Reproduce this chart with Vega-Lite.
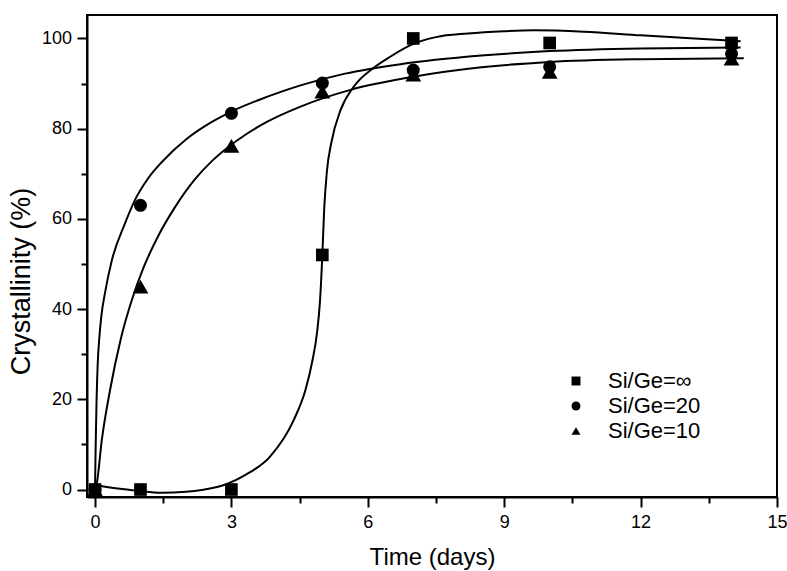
{
  "$schema": "https://vega.github.io/schema/vega-lite/v6.json",
  "width": 690,
  "height": 482,
  "autosize": {"type": "none"},
  "padding": {"left": 87, "top": 15, "right": 10, "bottom": 74},
  "background": "white",
  "config": {
    "font": "Liberation Sans",
    "view": {"stroke": "black", "strokeWidth": 2},
    "axis": {
      "domainColor": "black", "domainWidth": 2,
      "tickColor": "black", "tickWidth": 2,
      "labelColor": "black", "titleColor": "black",
      "labelFont": "Liberation Sans", "titleFont": "Liberation Sans",
      "labelFontSize": 18, "titleFontWeight": "normal",
      "grid": false, "labelFlush": false, "labelOverlap": false
    }
  },
  "datasets": {
    "points": [
      {"series": "Si/Ge=10", "x": 0, "y": 0},
      {"series": "Si/Ge=10", "x": 1, "y": 45},
      {"series": "Si/Ge=10", "x": 3, "y": 76.2},
      {"series": "Si/Ge=10", "x": 5, "y": 88.2},
      {"series": "Si/Ge=10", "x": 7, "y": 92},
      {"series": "Si/Ge=10", "x": 10, "y": 92.6},
      {"series": "Si/Ge=10", "x": 14, "y": 95.5},
      {"series": "Si/Ge=20", "x": 0, "y": 0},
      {"series": "Si/Ge=20", "x": 1, "y": 63},
      {"series": "Si/Ge=20", "x": 3, "y": 83.4},
      {"series": "Si/Ge=20", "x": 5, "y": 90.1},
      {"series": "Si/Ge=20", "x": 7, "y": 93},
      {"series": "Si/Ge=20", "x": 10, "y": 93.7},
      {"series": "Si/Ge=20", "x": 14, "y": 96.6},
      {"series": "Si/Ge=∞", "x": 0, "y": 0},
      {"series": "Si/Ge=∞", "x": 1, "y": 0},
      {"series": "Si/Ge=∞", "x": 3, "y": 0},
      {"series": "Si/Ge=∞", "x": 5, "y": 52},
      {"series": "Si/Ge=∞", "x": 7, "y": 100},
      {"series": "Si/Ge=∞", "x": 10, "y": 99},
      {"series": "Si/Ge=∞", "x": 14, "y": 99}
    ],
    "curves": [
      {"series": "inf", "x": 0, "y": 1.0},
      {"series": "inf", "x": 0.5, "y": 0.2},
      {"series": "inf", "x": 0.95, "y": -0.3},
      {"series": "inf", "x": 1.46, "y": -0.7},
      {"series": "inf", "x": 2.0, "y": -0.5},
      {"series": "inf", "x": 2.35, "y": -0.1},
      {"series": "inf", "x": 2.94, "y": 1.4},
      {"series": "inf", "x": 3.3, "y": 3.2},
      {"series": "inf", "x": 3.85, "y": 7.3},
      {"series": "inf", "x": 4.37, "y": 15.4},
      {"series": "inf", "x": 4.63, "y": 22.1},
      {"series": "inf", "x": 4.78, "y": 28.5},
      {"series": "inf", "x": 4.88, "y": 34.5},
      {"series": "inf", "x": 4.95, "y": 42},
      {"series": "inf", "x": 5.0, "y": 52},
      {"series": "inf", "x": 5.04, "y": 62},
      {"series": "inf", "x": 5.1, "y": 70.5},
      {"series": "inf", "x": 5.2, "y": 77},
      {"series": "inf", "x": 5.4, "y": 84.1},
      {"series": "inf", "x": 5.69, "y": 89.3},
      {"series": "inf", "x": 6.13, "y": 93.5},
      {"series": "inf", "x": 6.5, "y": 96},
      {"series": "inf", "x": 7.0, "y": 98.8},
      {"series": "inf", "x": 7.5, "y": 100.3},
      {"series": "inf", "x": 8.2, "y": 101.1},
      {"series": "inf", "x": 9.0, "y": 101.6},
      {"series": "inf", "x": 9.65, "y": 101.8},
      {"series": "inf", "x": 10.75, "y": 101.5},
      {"series": "inf", "x": 12, "y": 100.7},
      {"series": "inf", "x": 13, "y": 100.1},
      {"series": "inf", "x": 14.2, "y": 99.4},
      {"series": "20", "x": 0, "y": 0},
      {"series": "20", "x": 0.015, "y": 10},
      {"series": "20", "x": 0.035, "y": 20},
      {"series": "20", "x": 0.06, "y": 28},
      {"series": "20", "x": 0.09, "y": 33},
      {"series": "20", "x": 0.14, "y": 38.5},
      {"series": "20", "x": 0.22, "y": 43.6},
      {"series": "20", "x": 0.37, "y": 50.8},
      {"series": "20", "x": 0.66, "y": 59},
      {"series": "20", "x": 0.88, "y": 64.2},
      {"series": "20", "x": 1.17, "y": 69},
      {"series": "20", "x": 1.47, "y": 72.6},
      {"series": "20", "x": 2.0, "y": 77.6},
      {"series": "20", "x": 2.57, "y": 81.5},
      {"series": "20", "x": 3.0, "y": 83.8},
      {"series": "20", "x": 3.56, "y": 86.2},
      {"series": "20", "x": 4.07, "y": 88.1},
      {"series": "20", "x": 4.52, "y": 89.6},
      {"series": "20", "x": 5.5, "y": 92.2},
      {"series": "20", "x": 6.72, "y": 94.3},
      {"series": "20", "x": 8.5, "y": 96.2},
      {"series": "20", "x": 10, "y": 97.2},
      {"series": "20", "x": 12, "y": 97.8},
      {"series": "20", "x": 14.2, "y": 98.0},
      {"series": "10", "x": 0, "y": 0},
      {"series": "10", "x": 0.04, "y": 1.4},
      {"series": "10", "x": 0.15, "y": 11},
      {"series": "10", "x": 0.33, "y": 22},
      {"series": "10", "x": 0.57, "y": 33.5},
      {"series": "10", "x": 0.81, "y": 42},
      {"series": "10", "x": 1.06, "y": 49},
      {"series": "10", "x": 1.39, "y": 56.2},
      {"series": "10", "x": 1.76, "y": 62.6},
      {"series": "10", "x": 2.2, "y": 68.8},
      {"series": "10", "x": 2.57, "y": 72.8},
      {"series": "10", "x": 2.94, "y": 76.0},
      {"series": "10", "x": 3.3, "y": 78.6},
      {"series": "10", "x": 3.78, "y": 81.5},
      {"series": "10", "x": 4.52, "y": 84.9},
      {"series": "10", "x": 5.62, "y": 88.6},
      {"series": "10", "x": 7.0, "y": 91.5},
      {"series": "10", "x": 8.5, "y": 93.6},
      {"series": "10", "x": 10, "y": 94.8},
      {"series": "10", "x": 12, "y": 95.4},
      {"series": "10", "x": 14.27, "y": 95.6}
    ]
  },
  "layer": [
    {
      "data": {"name": "curves"},
      "mark": {"type": "line", "interpolate": "monotone", "color": "black", "strokeWidth": 2},
      "encoding": {
        "x": {
          "field": "x", "type": "quantitative",
          "scale": {"domain": [-0.176, 15], "nice": false, "zero": false},
          "axis": {
            "title": "Time (days)",
            "values": [0, 1.5, 3, 4.5, 6, 7.5, 9, 10.5, 12, 13.5, 15],
            "format": "d",
            "labelExpr": "datum.value % 3 === 0 ? datum.label : ''",
            "tickSize": {"condition": {"test": "datum.value % 3 === 0", "value": 10}, "value": 6},
            "labelPadding": 6.5,
            "titleFontSize": 24,
            "titleBaseline": "alphabetic",
            "titleY": 67
          }
        },
        "y": {
          "field": "y", "type": "quantitative",
          "scale": {"domain": [-1.66, 105.2], "nice": false, "zero": false},
          "axis": {
            "title": "Crystallinity (%)",
            "values": [0, 10, 20, 30, 40, 50, 60, 70, 80, 90, 100],
            "format": "d",
            "labelExpr": "datum.value % 20 === 0 ? datum.label : ''",
            "tickSize": {"condition": {"test": "datum.value % 20 === 0", "value": 10}, "value": 6},
            "labelPadding": 5.5,
            "titleFontSize": 27,
            "titleBaseline": "alphabetic",
            "titleX": -58,
            "titleY": 266
          }
        },
        "detail": {"field": "series", "type": "nominal"}
      }
    },
    {
      "data": {"name": "points"},
      "transform": [{"filter": "datum.series === 'Si/Ge=10'"}],
      "mark": {"type": "point", "filled": true, "color": "black", "opacity": 1, "size": 250},
      "encoding": {
        "x": {"field": "x", "type": "quantitative"},
        "y": {"field": "y", "type": "quantitative"},
        "shape": {
          "field": "series", "type": "nominal",
          "scale": {"domain": ["Si/Ge=∞", "Si/Ge=20", "Si/Ge=10"], "range": ["square", "circle", "triangle-up"]},
          "legend": {
            "title": null, "orient": "none", "legendX": 478, "legendY": 355,
            "symbolSize": 80, "symbolFillColor": "black", "symbolStrokeWidth": 0,
            "labelFontSize": 22, "labelFont": "Liberation Sans", "labelColor": "black",
            "labelOffset": 21, "rowPadding": 3, "padding": 0
          }
        }
      }
    },
    {
      "data": {"name": "points"},
      "transform": [{"filter": "datum.series === 'Si/Ge=20'"}],
      "mark": {"type": "point", "filled": true, "color": "black", "opacity": 1, "size": 170},
      "encoding": {
        "x": {"field": "x", "type": "quantitative"},
        "y": {"field": "y", "type": "quantitative"},
        "shape": {"field": "series", "type": "nominal"}
      }
    },
    {
      "data": {"name": "points"},
      "transform": [{"filter": "datum.series === 'Si/Ge=∞'"}],
      "mark": {"type": "point", "filled": true, "color": "black", "opacity": 1, "size": 160},
      "encoding": {
        "x": {"field": "x", "type": "quantitative"},
        "y": {"field": "y", "type": "quantitative"},
        "shape": {"field": "series", "type": "nominal"}
      }
    }
  ]
}
